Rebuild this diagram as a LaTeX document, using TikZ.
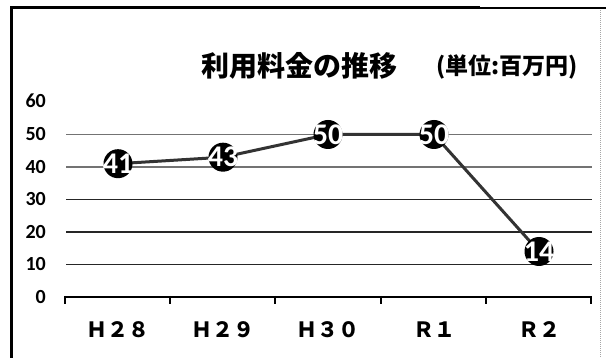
\documentclass[tikz,border=0pt]{standalone}
\usepackage{fontspec}
\newfontfamily\jpf{Noto Sans CJK JP}
\newfontfamily\numf{Carlito}
\begin{document}
\begin{tikzpicture}[x=1pt,y=-1pt,
  ylab/.style={font=\numf\bfseries\fontsize{20}{20}\selectfont, anchor=east, inner sep=0},
  catlab/.style={font=\jpf\bfseries\fontsize{21}{21}\selectfont, inner sep=0},
  gridA/.style={draw=black!55, line width=1.3pt},
  gridB/.style={draw=black!85, line width=1.3pt},
  dataline/.style={draw=black!80, line width=3pt},
  dot/.style={circle, fill=black, minimum size=29pt, inner sep=0},
  vallab/.style={font=\numf\bfseries\fontsize{30}{30}\selectfont, inner sep=0, text=white}
]
\useasboundingbox (0,0) rectangle (606,358);
% frame
\draw[line width=3pt] (11,358) -- (11,8) -- (480,8);
\draw[line width=1.5pt] (480,8) -- (606,8);
\draw[black!35, densely dotted, line width=1pt] (600,10) -- (600,358);
% titles
\node[font=\jpf\bfseries\fontsize{28}{28}\selectfont, inner sep=0] (title) at (299,66) {利用料金の推移};
\node[font=\jpf\bfseries\fontsize{23}{23}\selectfont, inner sep=0] (unit) at (507,67) {(単位:百万円)};
% y labels
\foreach \v/\yy in {60/101,50/134.5,40/167,30/199.5,20/232,10/264.5,0/297}
  \node[ylab] (y\v) at (46,\yy) {\v};
% gridlines
\foreach \yy in {134.5,167} \draw[gridA] (66,\yy) -- (592,\yy);
\foreach \yy in {199.5,232,264.5} \draw[gridB] (66,\yy) -- (592,\yy);
% axis
\draw[line width=2.6pt] (65,297) -- (591,297);
\foreach \xx in {65,170.2,275.4,380.6,485.8,591} \draw[line width=2pt] (\xx,296) -- (\xx,304);
% categories
\node[catlab] (c1) at (118,330) {Ｈ２８};
\node[catlab] (c2) at (223,330) {Ｈ２９};
\node[catlab] (c3) at (328,330) {Ｈ３０};
\node[catlab] (c4) at (434,330) {Ｒ１};
\node[catlab] (c5) at (539,330) {Ｒ２};
% data
\coordinate (p1) at (118,163.7);
\coordinate (p2) at (223,157.2);
\coordinate (p3) at (328,134.5);
\coordinate (p4) at (434,134.5);
\coordinate (p5) at (539,251.5);
\draw[dataline] (p1) -- (p2) -- (p3) -- (p4) -- (p5);
\foreach \i/\v in {1/41,2/43,3/50,4/50,5/14}{
  \node[dot] (d\i) at (p\i) {};
  \node[vallab] (v\i) at (p\i) {\v};
}
\end{tikzpicture}
\end{document}
